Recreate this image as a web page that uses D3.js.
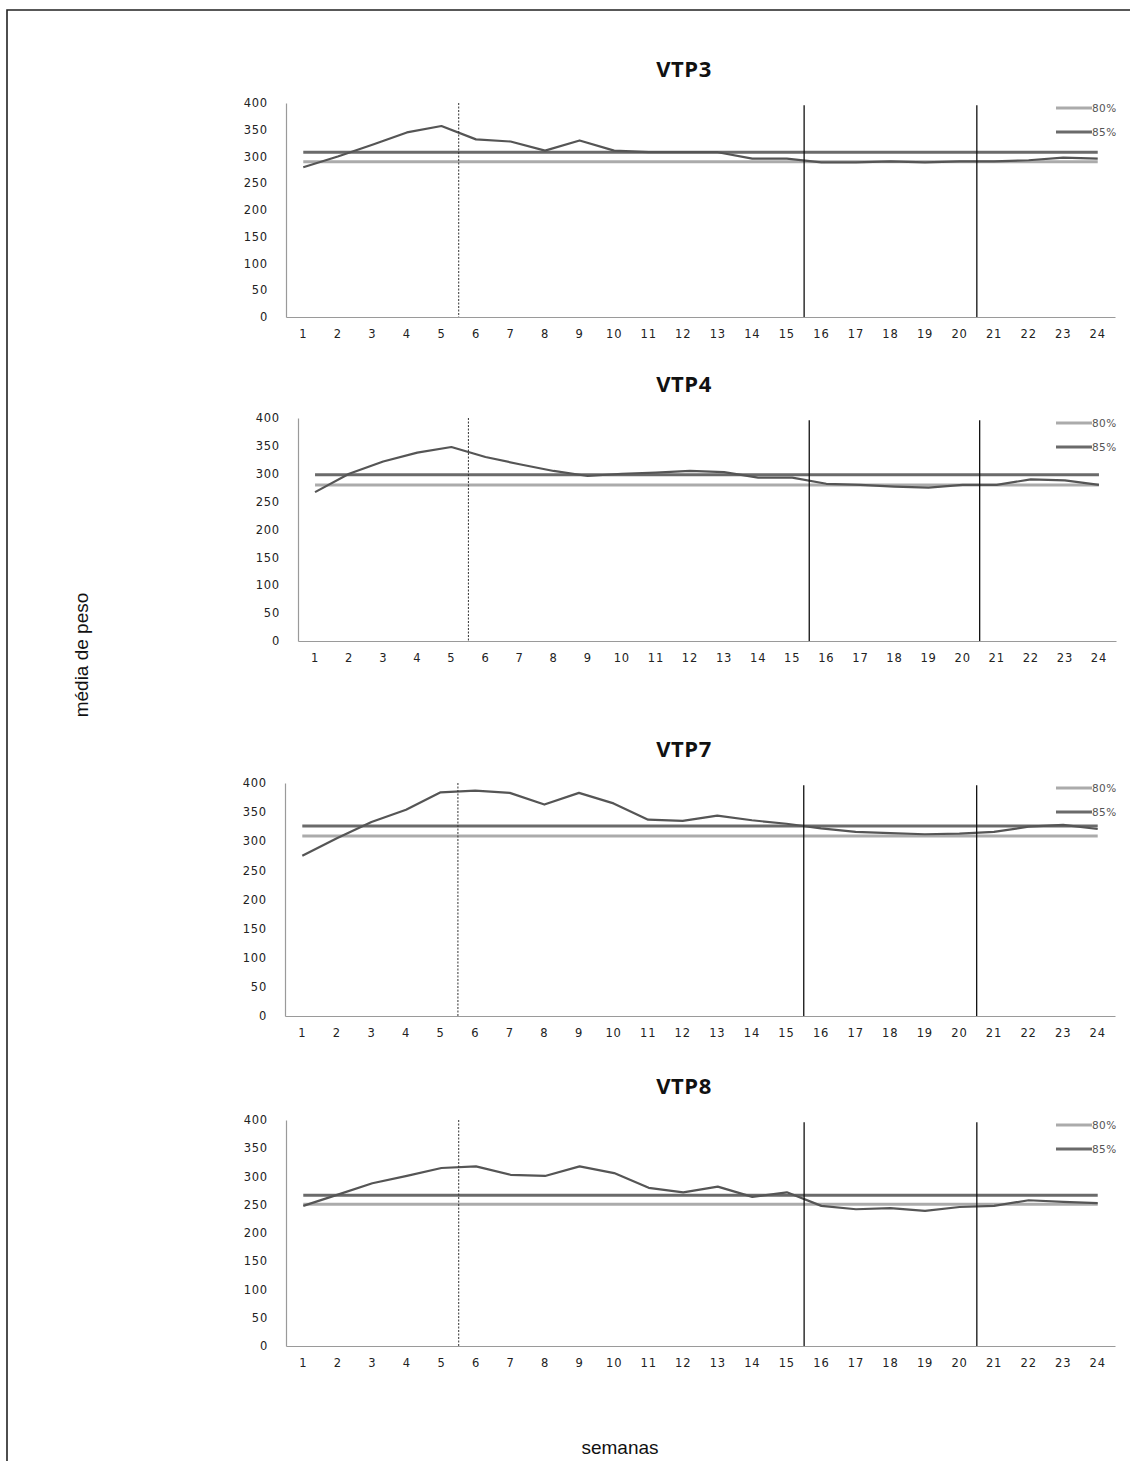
<!DOCTYPE html>
<html>
<head>
<meta charset="utf-8">
<script src="https://cdn.jsdelivr.net/npm/d3@7"></script>
<style>
    body { margin: 0; background: #fff; }
    svg { display: block; }
</style>
</head>
<body>
<div class="container"></div>
<script>
// weeks on the x axis
let weeks = d3.range(1, 25);
let yTicks = [0, 50, 100, 150, 200, 250, 300, 350, 400];

let titles = ["VTP3", "VTP4", "VTP7", "VTP8"];

// mean weight per week
let vtp3 = [280, 300, 322, 345, 357, 332, 328, 311, 330, 311, 308, 308, 308, 296, 296, 289, 289, 291, 289, 291, 291, 293, 298, 296];
let vtp4 = [267, 300, 322, 338, 348, 330, 317, 305, 296, 300, 302, 305, 303, 293, 293, 282, 280, 277, 275, 280, 280, 290, 288, 280];
let vtp7 = [275, 305, 333, 354, 384, 387, 383, 363, 383, 365, 337, 335, 344, 336, 330, 322, 316, 314, 312, 313, 316, 325, 328, 321];
let vtp8 = [248, 268, 288, 301, 315, 318, 303, 301, 318, 306, 280, 272, 282, 264, 272, 248, 242, 244, 239, 246, 248, 258, 255, 253];

// reference levels
let level80 = [290, 280, 309, 251];
let level85 = [308, 298, 326, 267];
let levelNames = ["80%", "85%"];

// phase breaks (after week n)
let dottedBreak = 5;
let solidBreaks = [15, 20];

let series = [vtp3, vtp4, vtp7, vtp8];

// plot boxes of the four panels
let layout = [
    { left: 286, right: 1115, top: 103, bottom: 317 },
    { left: 298, right: 1116, top: 418, bottom: 641 },
    { left: 285, right: 1115, top: 783, bottom: 1016 },
    { left: 286, right: 1115, top: 1120, bottom: 1346 }
];

let svg = d3.select(".container").append("svg")
    .attr("width", 1130)
    .attr("height", 1461);

// outer frame (top and left edges)
svg.append("path")
    .attr("d", "M7,1461 V10 H1130")
    .attr("fill", "none")
    .attr("stroke", "#222")
    .attr("stroke-width", 1.6);

svg.append("text")
    .attr("transform", "translate(88,655) rotate(-90)")
    .attr("text-anchor", "middle")
    .style("font-family", "'Liberation Sans', Arial, sans-serif")
    .style("font-size", "19px")
    .attr("fill", "#111")
    .text("média de peso");

svg.append("text")
    .attr("x", 620)
    .attr("y", 1454)
    .attr("text-anchor", "middle")
    .style("font-family", "'Liberation Sans', Arial, sans-serif")
    .style("font-size", "19px")
    .attr("fill", "#111")
    .text("semanas");

series.forEach(function (values, i) {
    drawPanel(i, values);
});

function drawPanel(i, values) {
    let box = layout[i];

    let x = d3.scaleBand()
        .domain(weeks)
        .range([box.left, box.right]);
    let cx = function (w) { return x(w) + x.bandwidth() / 2; };

    let y = d3.scaleLinear()
        .domain([0, 400])
        .range([box.bottom, box.top]);

    let g = svg.append("g").attr("class", "panel");

    g.append("text")
        .attr("x", 684)
        .attr("y", box.top - 26)
        .attr("text-anchor", "middle")
        .style("font-family", "'Open Sans', sans-serif")
        .style("font-weight", "bold")
        .style("font-size", "22px")
        .style("letter-spacing", "0.5px")
        .attr("fill", "#111")
        .text(titles[i]);

    // axes
    let yAxis = d3.axisLeft(y)
        .tickValues(yTicks)
        .tickSize(0)
        .tickPadding(18);
    let xAxis = d3.axisBottom(x)
        .tickSize(0)
        .tickPadding(13);

    let ya = g.append("g")
        .attr("transform", "translate(" + box.left + ",0)")
        .call(yAxis);
    let xa = g.append("g")
        .attr("transform", "translate(0," + box.bottom + ")")
        .call(xAxis);

    [ya, xa].forEach(function (a) {
        a.select(".domain").attr("stroke", "#9a9a9a").attr("stroke-width", 1.2);
        a.selectAll("text")
            .style("font-family", "'DejaVu Sans', Verdana, sans-serif")
            .style("font-size", "11.5px")
            .style("letter-spacing", "0.8px")
            .attr("fill", "#222");
    });

    // reference lines
    let first = cx(weeks[0]), last = cx(weeks[weeks.length - 1]);
    g.append("line")
        .attr("x1", first).attr("x2", last)
        .attr("y1", y(level80[i])).attr("y2", y(level80[i]))
        .attr("stroke", "#ababab")
        .attr("stroke-width", 3);
    g.append("line")
        .attr("x1", first).attr("x2", last)
        .attr("y1", y(level85[i])).attr("y2", y(level85[i]))
        .attr("stroke", "#6a6a6a")
        .attr("stroke-width", 3);

    // weekly mean
    let line = d3.line()
        .x(function (d, k) { return cx(weeks[k]); })
        .y(function (d) { return y(d); });

    g.append("path")
        .datum(values)
        .attr("d", line)
        .attr("fill", "none")
        .attr("stroke", "#555")
        .attr("stroke-width", 2.2)
        .attr("stroke-linejoin", "round");

    // phase separators
    g.append("line")
        .attr("x1", box.left + x.step() * dottedBreak)
        .attr("x2", box.left + x.step() * dottedBreak)
        .attr("y1", y(400)).attr("y2", y(0))
        .attr("stroke", "#333")
        .attr("stroke-width", 1)
        .attr("stroke-dasharray", "2,1.5");

    g.selectAll(".brk")
        .data(solidBreaks)
        .enter()
        .append("line")
        .attr("class", "brk")
        .attr("x1", function (d) { return box.left + x.step() * d; })
        .attr("x2", function (d) { return box.left + x.step() * d; })
        .attr("y1", y(396)).attr("y2", y(0))
        .attr("stroke", "#111")
        .attr("stroke-width", 1.3);

    // legend
    let legend = g.selectAll(".leg")
        .data(levelNames)
        .enter()
        .append("g")
        .attr("class", "leg")
        .attr("transform", function (d, k) {
            return "translate(1056," + (box.top + 5 + k * 24) + ")";
        });

    legend.append("line")
        .attr("x1", 0).attr("x2", 36)
        .attr("stroke", function (d, k) { return k === 0 ? "#ababab" : "#6a6a6a"; })
        .attr("stroke-width", 3);

    legend.append("text")
        .attr("x", 36)
        .attr("dy", "0.35em")
        .style("font-family", "'DejaVu Sans', Verdana, sans-serif")
        .style("font-size", "10.5px")
        .style("letter-spacing", "0.4px")
        .attr("fill", "#555")
        .text(function (d) { return d; });
}
</script>
</body>
</html>
